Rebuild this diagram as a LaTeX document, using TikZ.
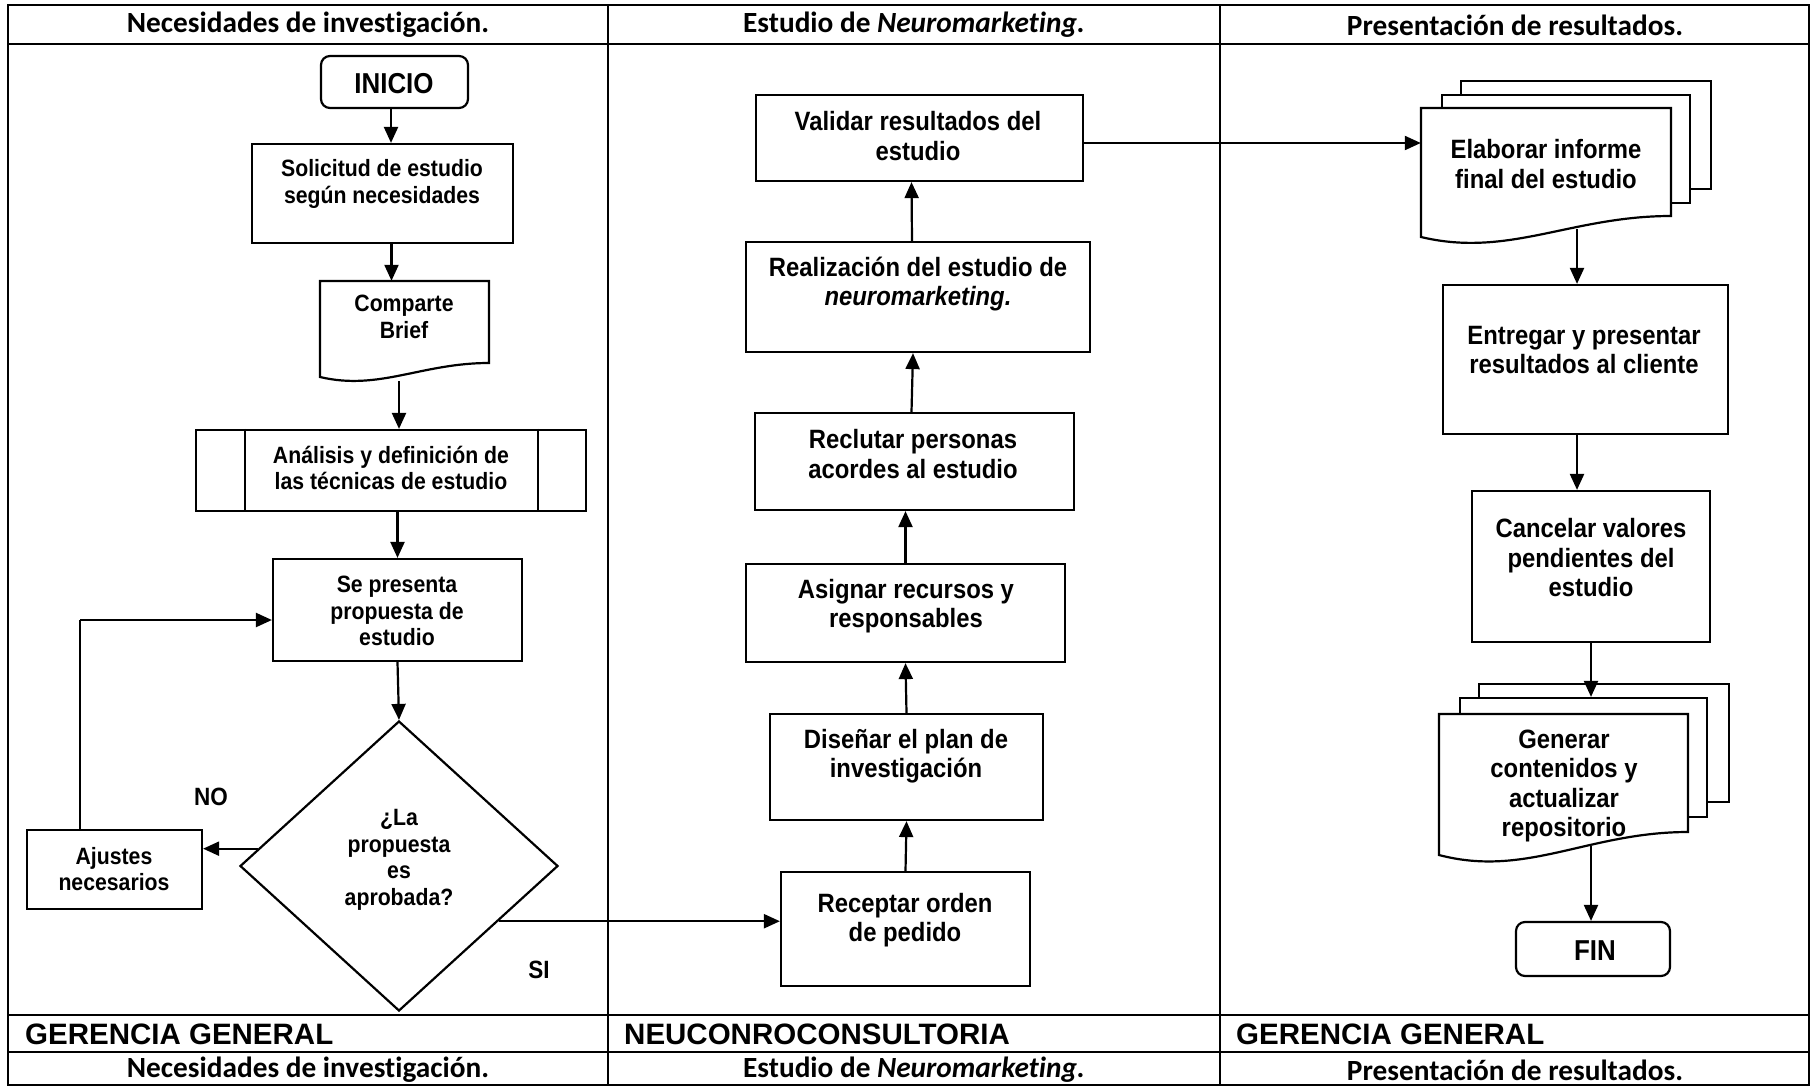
\documentclass[tikz,border=0pt]{standalone}
\usepackage{fontspec}
\setmainfont{Liberation Sans}
\newfontfamily\bodyf[FakeStretch=0.9]{Liberation Sans}
\newfontfamily\headf[Ligatures=NoCommon]{Carlito}
\usetikzlibrary{arrows.meta,shapes.geometric,fit}
\newcommand\docshape[5]{%
  \filldraw[shp] ({#1},{#4+#5}) -- ({#1},{#2}) -- ({#3},{#2}) -- ({#3},{#4})
    .. controls ({#1+0.6*(#3-#1)},{#4}) and ({#1+0.35*(#3-#1)},{#4+2*#5}) .. ({#1},{#4+#5}) -- cycle;}
\begin{document}
\begin{tikzpicture}[x=1pt,y=-1pt,
  shp/.style={draw=black, fill=white, line width=2.2pt},
  box/.style={draw, line width=2.2pt, inner sep=0pt, fill=white},
  arr/.style={line width=2.2pt, -{Triangle[length=16pt,width=14pt]}},
  t1/.style={font=\bodyf\bfseries\fontsize{23.6}{26.5}\selectfont, align=center, inner sep=0pt},
  t2/.style={font=\bodyf\bfseries\fontsize{26.5}{29.5}\selectfont, align=center, inner sep=0pt},
  t3/.style={font=\bodyf\bfseries\fontsize{28.8}{32}\selectfont, inner sep=0pt},
  lab/.style={font=\bodyf\bfseries\fontsize{25}{28}\selectfont, inner sep=0pt},
  hd/.style={font=\headf\bfseries\fontsize{29.3}{33}\selectfont, inner sep=0pt},
  ft/.style={font=\bfseries\fontsize{29.5}{33}\selectfont, anchor=west, inner sep=0pt},
  grid/.style={line width=2.6pt}]
\useasboundingbox (0,0) rectangle (1812,1087);
% table frame
\draw[grid] (8,5) rectangle (1809,1085);
\draw[grid] (8,44) -- (1809,44);
\draw[grid] (8,1015) -- (1809,1015);
\draw[grid] (8,1052) -- (1809,1052);
\draw[grid] (608,5) -- (608,1085);
\draw[grid] (1220,5) -- (1220,1085);
% headers
\node[hd] (h1) at (308,25) {Necesidades de investigación.};
\node[hd] (h2) at (914,25) {Estudio de \textit{Neuromarketing.}};
\node[hd] (h3) at (1515,25) {Presentación de resultados.};
\node[hd] (b1) at (308,1070) {Necesidades de investigación.};
\node[hd] (b2) at (914,1070) {Estudio de \textit{Neuromarketing.}};
\node[hd] (b3) at (1515,1070) {Presentación de resultados.};
\node[ft] (f1) at (25,1034) {GERENCIA GENERAL};
\node[ft] (f2) at (624,1034) {NEUCONROCONSULTORIA};
\node[ft] (f3) at (1236,1034) {GERENCIA GENERAL};
% column 1
\node[box, rounded corners=9pt, fit={(321,56) (468,108)}] (ini) {};
\node[t3] (iniT) at (394,84) {INICIO};
\node[box, fit={(252,144) (513,243)}] (sol) {};
\node[t1] (solT) at (382,184) {Solicitud de estudio\\según necesidades};
\node[inner sep=0pt, fit={(320,281) (489,383)}] (cmp) {};
\docshape{320}{281}{489}{363}{14}
\node[t1] (cmpT) at (404,317) {Comparte\\Brief};
\node[box, fit={(196,430) (586,511)}] (ana) {};
\draw[line width=2.2pt] ([xshift=50pt]ana.north west) -- ([xshift=50pt]ana.south west);
\draw[line width=2.2pt] ([xshift=-49pt]ana.north east) -- ([xshift=-49pt]ana.south east);
\node[t1] (anaT) at (391,468) {Análisis y definición de\\las técnicas de estudio};
\node[box, fit={(273,559) (522,661)}] (sep) {};
\node[t1] (sepT) at (397,611) {Se presenta\\propuesta de\\estudio};
\node[draw, diamond, line width=2.2pt, minimum width=318pt, minimum height=290pt, inner sep=0pt] (dia) at (399,866) {};
\node[t1] (diaT) at (399,860) {¿La\\propuesta\\es\\aprobada?};
\node[box, fit={(27,830) (202,909)}] (aju) {};
\node[t1] (ajuT) at (114,869) {Ajustes\\necesarios};
\node[lab] (no) at (211,797) {NO};
\node[lab] (si) at (539,970) {SI};
% column 2
\node[box, fit={(756,95) (1083,181)}] (val) {};
\node[t2] (valT) at (918,136) {Validar resultados del\\estudio};
\node[box, fit={(746,242) (1090,352)}] (rea) {};
\node[t2] (reaT) at (918,284) {Realización del estudio de\\\textit{neuromarketing.}};
\node[box, fit={(755,413) (1074,510)}] (rcl) {};
\node[t2] (rclT) at (913,454) {Reclutar personas\\acordes al estudio};
\node[box, fit={(746,564) (1065,662)}] (asi) {};
\node[t2] (asiT) at (906,606) {Asignar recursos y\\responsables};
\node[box, fit={(770,714) (1043,820)}] (dis) {};
\node[t2] (disT) at (906,756) {Diseñar el plan de\\investigación};
\node[box, fit={(781,872) (1030,986)}] (rec) {};
\node[t2] (recT) at (905,920) {Receptar orden\\de pedido};
% column 3
\node[box, fit={(1461,81) (1711,189)}] (elab3) {};
\node[box, fit={(1442,95) (1690,203)}] (elab2) {};
\node[inner sep=0pt, fit={(1421,108) (1671,237)}] (elab) {};
\docshape{1421}{108}{1671}{216}{21}
\node[t2] (elabT) at (1546,164) {Elaborar informe\\final del estudio};
\node[box, fit={(1443,285) (1728,434)}] (ent) {};
\node[t2] (entT) at (1584,350) {Entregar y presentar\\resultados al cliente};
\node[box, fit={(1472,491) (1710,642)}] (can) {};
\node[t2] (canT) at (1591,558) {Cancelar valores\\pendientes del\\estudio};
\node[box, fit={(1479,684) (1729,802)}] (gen3) {};
\node[box, fit={(1460,698) (1707,817)}] (gen2) {};
\node[inner sep=0pt, fit={(1439,714) (1688,855)}] (gen) {};
\docshape{1439}{714}{1688}{832}{23}
\node[t2] (genT) at (1564,786) {Generar\\contenidos y\\actualizar\\repositorio};
\node[box, rounded corners=9pt, fit={(1516,922) (1670,976)}] (fin) {};
\node[t3] (finT) at (1595,951) {FIN};
% connectors column 1
\draw[arr] ([xshift=-3.5pt]ini.south) -- ([xshift=8.5pt]sol.north);
\draw[arr] ([xshift=9pt]sol.south) -- ([xshift=-13pt]cmp.north);
\coordinate (cmpw) at (399,381);
\draw[arr] (cmpw) -- (cmpw |- ana.north);
\draw[arr] (ana.south -| sep.north) -- (sep.north);
\draw[arr] (sep.south) -- (dia.north);
\draw[arr] (dia.173) -- (dia.173 -| aju.east);
\coordinate (lc) at (80,620);
\draw[line width=1.3pt] (aju.north -| lc) -- (lc);
\draw[arr] (lc) -- (sep.west |- lc);
\draw[arr] (dia.331) -- (dia.331 -| rec.west);
% connectors column 2
\draw[arr] (rec.north) -- (dis.south);
\draw[arr] (dis.north) -- (asi.south);
\draw[arr] (asi.north) -- (asi.north |- rcl.south);
\draw[arr] ([xshift=-3pt]rcl.north) -- ([xshift=-5pt]rea.south);
\draw[arr] ([xshift=-6pt]rea.north) -- ([xshift=-8pt]val.south);
\draw[arr] ([yshift=-5pt]val.east) -- ([yshift=-5pt]val.east -| elab.west);
% connectors column 3
\coordinate (elw) at (1577,229);
\draw[arr] (elw) -- (elw |- ent.north);
\draw[arr] (ent.south -| elw) -- (can.north -| elw);
\draw[arr] (can.south) -- (can.south |- gen2.north);
\coordinate (genw) at (1591,846);
\draw[arr] (genw) -- (genw |- fin.north);
\end{tikzpicture}
\end{document}
